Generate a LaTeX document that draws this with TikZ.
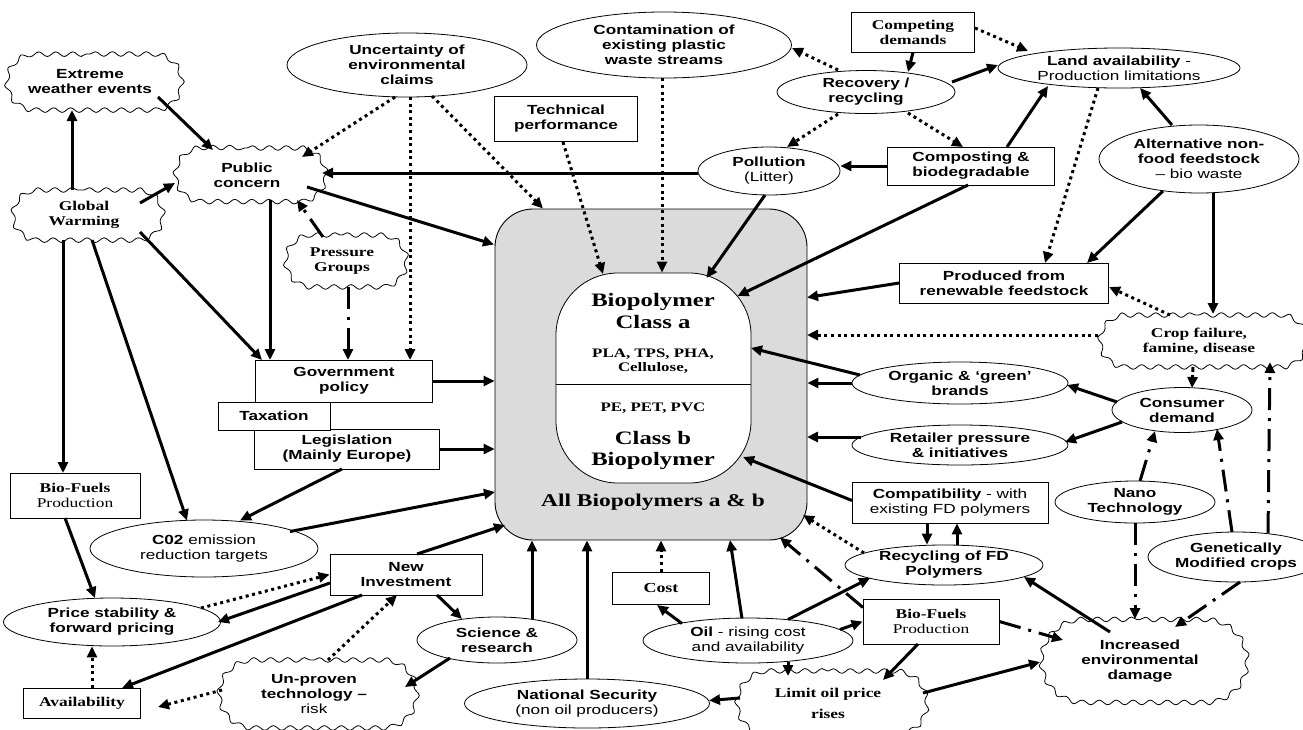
\documentclass[tikz,border=0pt]{standalone}
\usepackage{fontspec}
\setmainfont{Liberation Sans}[FakeStretch=1.3]
\newfontfamily\serf{Liberation Serif}[FakeStretch=1.3]
\usetikzlibrary{arrows.meta,shapes.geometric,shapes.misc,decorations.pathmorphing,calc}
\newcommand\fsans{\fontsize{13.2}{15}\selectfont}
\newcommand\fserif{\serf\fontsize{13.4}{15}\selectfont}
\tikzset{
  base/.style={align=center, inner sep=0pt, line width=0.8pt},
  ell/.style={base, draw, ellipse, fill=white, inner ysep=-3pt, font=\fsans\bfseries},
  box/.style={base, draw, rectangle, fill=white, font=\fsans\bfseries},
  sbox/.style={box, font=\fserif\bfseries},
  cld/.style={base, draw, fill=white, rounded rectangle, decorate, decoration={snake, segment length=17pt, amplitude=2.3pt}, font=\fsans\bfseries},
  scld/.style={cld, font=\fserif\bfseries},
  sz/.style 2 args={minimum width=#1pt, minimum height=#2pt},
  con/.style={line width=3pt, -{Triangle[length=11pt,width=10pt]}},
  dot/.style={con, dash pattern=on 3pt off 3.6pt},
  dd/.style={con, dash pattern=on 22pt off 8pt on 3pt off 8pt},
  dsh/.style={con, dash pattern=on 5pt off 3pt},
}
\begin{document}
\begin{tikzpicture}[x=1pt,y=-1pt]
\useasboundingbox (0,0) rectangle (1303,729);
\fill[white] (0,0) rectangle (1303,729);

% central block
\node[draw, line width=0.9pt, fill=gray!28, rounded corners=38pt, minimum width=312pt, minimum height=331pt] (main) at (651,374.5) {};
\node[draw, line width=0.8pt, fill=white, rounded corners=62pt, minimum width=195pt, minimum height=210pt] (cap) at (653.5,378) {};
\draw[line width=0.8pt] ([yshift=-6pt]cap.west) -- ([yshift=-6pt]cap.east);
\node[align=center, font=\serf\fontsize{19}{22}\selectfont\bfseries] (capA) at (653,311) {Biopolymer\\Class a};
\node[align=center, font=\serf\fontsize{13}{14}\selectfont\bfseries] (capB) at (653,361) {PLA, TPS, PHA,\\Cellulose,};
\node[align=center, font=\serf\fontsize{13}{14}\selectfont\bfseries] (capC) at (653,408) {PE, PET, PVC};
\node[align=center, font=\serf\fontsize{19}{21}\selectfont\bfseries] (capD) at (653,450) {Class b\\Biopolymer};
\node[align=center, font=\serf\fontsize{18}{20}\selectfont\bfseries] (all) at (653,502) {All Biopolymers a \& b};

% nodes
\node[cld, sz={175}{56}] (ext) at (90,82) {Extreme\\weather events};
\node[scld, sz={150}{50}] (glob) at (84,215) {Global\\Warming};
\node[cld, sz={150}{54}] (pc) at (247,175) {Public\\concern};
\node[ell, sz={240}{64}] (unc) at (407,65) {Uncertainty of\\environmental\\claims};
\node[ell, sz={255}{66}] (cont) at (664,45) {Contamination of\\existing plastic\\waste streams};
\node[box, sz={143}{45}] (tech) at (566,119) {Technical\\performance};
\node[sbox, sz={123}{40}] (comp) at (913,32) {Competing\\demands};
\node[ell, sz={178}{43}] (rec) at (866,92) {Recovery /\\recycling};
\node[ell, sz={242}{40}] (land) at (1119,68) {Land availability {\mdseries -}\\{\mdseries Production limitations}};
\node[ell, sz={142}{48}] (pol) at (769,171) {Pollution\\{\mdseries (Litter)}};
\node[box, sz={167}{38}] (cmpst) at (971,166) {Composting \&\\biodegradable};
\node[ell, sz={200}{68}] (alt) at (1199,159) {Alternative non-\\food feedstock\\{\mdseries -- bio waste}};
\node[scld, sz={121}{52}] (press) at (342,261) {Pressure\\Groups};
\node[box, sz={177}{42}] (gov) at (344,381) {Government\\policy};
\node[box, sz={185}{40}] (leg) at (347,449) {Legislation\\(Mainly Europe)};
\node[box, sz={112}{28}] (tax) at (274,416) {Taxation};
\node[box, sz={209}{40}] (prod) at (1004,283) {Produced from\\renewable feedstock};
\node[scld, sz={207}{52}] (crop) at (1199,341) {Crop failure,\\famine, disease};
\node[ell, sz={216}{42}] (org) at (960,383) {Organic \& `green'\\brands};
\node[ell, sz={140}{45}] (cons) at (1182,410) {Consumer\\demand};
\node[ell, sz={216}{40}] (ret) at (960,445) {Retailer pressure\\\& initiatives};
\node[ell, sz={160}{42}] (nano) at (1135,502) {Nano\\Technology};
\node[ell, sz={176}{50}] (gm) at (1236,557) {Genetically\\Modified crops};
\node[box, sz={196}{41}] (compat) at (950,502.5) {Compatibility {\mdseries - with}\\{\mdseries existing FD polymers}};
\node[ell, sz={198}{40}] (recfd) at (944,565) {Recycling of FD\\Polymers};
\node[sbox, sz={136}{45}] (bfr) at (931,621.5) {Bio-Fuels\\{\mdseries Production}};
\node[cld, sz={206}{83}] (dmg) at (1140,661) {Increased\\environmental\\damage};
\node[scld, sz={190}{64}, font=\serf\fontsize{13.4}{21}\selectfont\bfseries] (lim) at (828,703) {Limit oil price\\rises};
\node[ell, sz={210}{45}] (oil) at (748,640.5) {Oil {\mdseries - rising cost}\\{\mdseries and availability}};
\node[sbox, sz={97}{32}, font=\serf\fontsize{13.8}{15}\selectfont\bfseries] (cost) at (661,588) {Cost};
\node[ell, sz={245}{49}] (nat) at (587,703.5) {National Security\\{\mdseries (non oil producers)}};
\node[ell, sz={160}{46}] (sci) at (497,640) {Science \&\\research};
\node[box, sz={152}{41}] (inv) at (406,574.5) {New\\Investment};
\node[ell, sz={228}{57}] (co2) at (204,548.5) {C02 {\mdseries emission}\\{\mdseries reduction targets}};
\node[sbox, sz={130}{45}] (bfl) at (75,495.5) {Bio-Fuels\\{\mdseries Production}};
\node[ell, sz={217}{48}] (price) at (112,622) {Price stability \&\\forward pricing};
\node[sbox, sz={117}{30}] (avail) at (82,703) {Availability};
\node[cld, sz={198}{68}] (unp) at (314,694) {Un-proven\\technology --\\{\mdseries risk}};

% helper coordinates
\coordinate (contS) at ([xshift=-2pt]cont.south);
\coordinate (sciT) at ([shift={(35,-21)}]sci.center);
\coordinate (compD) at ([xshift=-23pt]compat.south);
\coordinate (recU) at ([xshift=13pt]recfd.north);
\coordinate (availT) at ([xshift=10pt]avail.north);

% connectors
\draw[con] ([shift={(-12,-25)}]glob.center) -- ([shift={(-18,28)}]ext.center);
\draw[con] ([shift={(68,15)}]ext.center) -- ([shift={(-34,-25)}]pc.center);
\draw[con] ([shift={(56,-12)}]glob.center) -- ([shift={(-72,8)}]pc.center);
\draw[dot] ([shift={(-12,32)}]unc.center) -- ([shift={(55,-18)}]pc.center);
\draw[dot] ([shift={(3,32)}]unc.center) -- ([shift={(66,-21)}]gov.center);
\draw[dot] ([shift={(25,31)}]unc.center) -- ([shift={(-108,-166)}]main.center);
\draw[con] ([shift={(60,12)}]pc.center) -- ([shift={(-157,-130)}]main.center);
\draw[con] ([shift={(-71,2)}]pol.center) -- ([shift={(75,-2)}]pc.center);
\draw[con] ([shift={(23,25)}]pc.center) -- ([shift={(-74,-21)}]gov.center);
\draw[dd] ([shift={(-19,-24)}]press.center) -- ([shift={(50,25)}]pc.center);
\draw[dd] ([shift={(6,26)}]press.center) -- ([shift={(4,-21)}]gov.center);
\draw[con] ([shift={(56,17)}]glob.center) -- ([shift={(-82,-21)}]gov.center);
\draw[con] ([shift={(-21,25)}]glob.center) -- ([shift={(-12,-22.5)}]bfl.center);
\draw[con] ([shift={(8,25)}]glob.center) -- ([shift={(-17,-28)}]co2.center);
\draw[con] (gov.east) -- (gov.east -| main.west);
\draw[con] (leg.east) -- (leg.east -| main.west);
\draw[con] ([shift={(-5,20)}]leg.center) -- ([shift={(36,-28)}]co2.center);
\draw[dot] (contS) -- (contS |- cap.north);
\draw[dot] ([shift={(-3,23)}]tech.center) -- ([shift={(-50.5,-104)}]cap.center);
\draw[con] ([shift={(-4,24)}]pol.center) -- ([shift={(53,-100)}]cap.center);
\draw[con] ([shift={(-3,19)}]cmpst.center) -- ([shift={(84,-82)}]cap.center);
\draw[con] (cmpst.west) -- (cmpst.west -| pol.east);
\draw[con] ([shift={(36,-19)}]cmpst.center) -- ([shift={(-71,18)}]land.center);
\draw[dot] ([shift={(-28,-22)}]rec.center) -- ([shift={(128,3)}]cont.center);
\draw[dot] ([shift={(-28,22)}]rec.center) -- ([shift={(18,-24)}]pol.center);
\draw[dot] ([shift={(42,21)}]rec.center) -- ([shift={(-8,-19)}]cmpst.center);
\draw[con] ([shift={(86,-10)}]rec.center) -- ([shift={(-121,-3)}]land.center);
\draw[con] (comp.south) -- ([shift={(42,-20)}]rec.center);
\draw[dot] ([shift={(62,-4)}]comp.center) -- ([shift={(-91,-17)}]land.center);
\draw[dot] ([shift={(-21,20)}]land.center) -- ([shift={(41,-20)}]prod.center);
\draw[con] ([shift={(-27,-34)}]alt.center) -- ([shift={(21,20)}]land.center);
\draw[con] ([shift={(-36,32)}]alt.center) -- ([shift={(83,-20)}]prod.center);
\draw[con] ([shift={(14,34)}]alt.center) -- ([shift={(14,-27)}]crop.center);
\draw[con] (prod.west) -- ([shift={(156,-77)}]main.center);
\draw[dot] ([shift={(-29,-26)}]crop.center) -- ([shift={(105,4)}]prod.center);
\draw[dot] ([shift={(-101,-6)}]crop.center) -- ([shift={(156,-39.5)}]main.center);
\draw[con] ([shift={(-100,-8)}]org.center) -- ([shift={(97.5,-30)}]cap.center);
\draw[con] (org.west) -- (org.west -| main.east);
\draw[con] ([shift={(-99,-8)}]ret.center) -- ([shift={(156,62.5)}]main.center);
\draw[con] ([shift={(-98,-2)}]compat.center) -- ([shift={(89.5,79)}]cap.center);
\draw[con] ([shift={(-65,-8)}]cons.center) -- ([shift={(107,2)}]org.center);
\draw[con] ([shift={(-60,12)}]cons.center) -- ([shift={(105,-3)}]ret.center);
\draw[dsh] ([shift={(-6,26)}]crop.center) -- ([shift={(10,-22)}]cons.center);
\draw[dd] ([shift={(5,-21)}]nano.center) -- ([shift={(-27,21)}]cons.center);
\draw[dd] ([shift={(-4,-25)}]gm.center) -- ([shift={(35,19)}]cons.center);
\draw[dd] ([shift={(32,-24)}]gm.center) -- ([shift={(71,21)}]crop.center);
\draw[dd] (nano.south) -- (nano.south |- dmg.north);
\draw[dd] ([shift={(4,25)}]gm.center) -- ([shift={(35,-34)}]dmg.center);
\draw[con] ([shift={(-30,-29)}]dmg.center) -- ([shift={(80,12)}]recfd.center);
\draw[con] (compD) -- (compD |- recfd.north);
\draw[con] (recU) -- (recU |- compat.south);
\draw[dot] ([shift={(-80,-12)}]recfd.center) -- ([shift={(152,140.5)}]main.center);
\draw[dd] ([shift={(-68,-14)}]bfr.center) -- ([shift={(129,163)}]main.center);
\draw[con] ([shift={(40,-21)}]oil.center) -- ([shift={(-74,13)}]recfd.center);
\draw[con] ([shift={(92,-11)}]oil.center) -- (bfr.west);
\draw[con] ([shift={(-66,-17)}]oil.center) -- ([shift={(-4,17)}]cost.center);
\draw[dot] (cost.north) -- (cost.north |- main.south);
\draw[con] ([shift={(-6,-22)}]oil.center) -- ([shift={(79,165.5)}]main.center);
\draw[con] ([shift={(40,21)}]oil.center) -- ([shift={(-40,-27)}]lim.center);
\draw[con] ([shift={(-88,-5)}]lim.center) -- ([shift={(122,-3)}]nat.center);
\draw[con] ([shift={(-13,22.5)}]bfr.center) -- ([shift={(55,-23)}]lim.center);
\draw[con] ([shift={(95,-10)}]lim.center) -- ([shift={(-100,1)}]dmg.center);
\draw[dd] (bfr.east) -- ([shift={(-77,-21)}]dmg.center);
\draw[con] (sciT) -- (sciT |- main.south);
\draw[con] (nat.north) -- (nat.north |- main.south);
\draw[con] ([shift={(86,-17)}]co2.center) -- ([shift={(-156,117.5)}]main.center);
\draw[con] ([shift={(11,-20.5)}]inv.center) -- ([shift={(-146,150.5)}]main.center);
\draw[con] ([shift={(31,20.5)}]inv.center) -- ([shift={(-35,-21)}]sci.center);
\draw[con] ([shift={(-76,8.5)}]inv.center) -- ([shift={(106,0)}]price.center);
\draw[dot] ([shift={(89,-14)}]price.center) -- (inv.west);
\draw[con] ([shift={(-44,20.5)}]inv.center) -- ([shift={(40,-15)}]avail.center);
\draw[dot] ([shift={(14,-34)}]unp.center) -- ([shift={(-9,20.5)}]inv.center);
\draw[dot] ([shift={(-92,-4)}]unp.center) -- ([shift={(76,4)}]avail.center);
\draw[dot] (availT) -- (availT |- price.south);
\draw[con] ([shift={(-10,22.5)}]bfl.center) -- ([shift={(-17,-24)}]price.center);
\draw[con] ([shift={(-47,18)}]sci.center) -- ([shift={(91,-7)}]unp.center);
\end{tikzpicture}
\end{document}
